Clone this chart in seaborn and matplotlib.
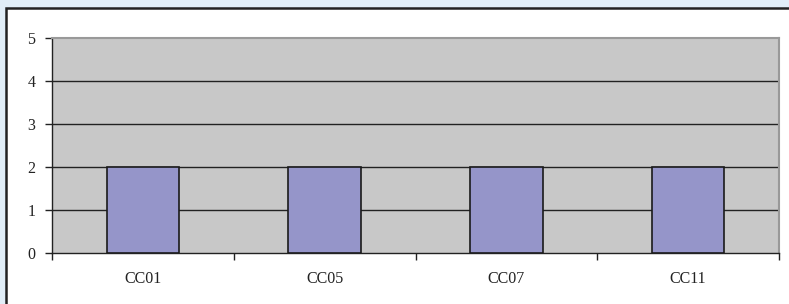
import numpy as np
import pandas as pd
import matplotlib
matplotlib.use("Agg")
import matplotlib.pyplot as plt
import seaborn as sns
from matplotlib.patches import Rectangle

# data
categories = ["CC01", "CC05", "CC07", "CC11"]
values = [2, 2, 2, 2]
y_ticks = [0, 1, 2, 3, 4, 5]

W, H = 789, 304
sns.set_style("white")
plt.rcParams["font.family"] = ["Liberation Serif", "DejaVu Serif"]

fig = plt.figure(figsize=(W / 100, H / 100), dpi=100, facecolor="#E1EEF8")

# white frame panel behind the axes
panel = Rectangle((6 / W, -0.05), 1.2, 1 - 8 / H + 0.05, transform=fig.transFigure,
                  facecolor="white", edgecolor="#222222", linewidth=1.8, zorder=-5)
fig.add_artist(panel)

ax = fig.add_axes([52 / W, 1 - 253 / H, (779 - 52) / W, (253 - 38) / H])
ax.set_zorder(2)
df = pd.DataFrame({"cat": categories, "val": values})
sns.barplot(data=df, x="cat", y="val", ax=ax, color="#9595C9", width=0.4,
            edgecolor="#1a1a1a", linewidth=1.2, saturation=1, zorder=3)

ax.set_facecolor("#C8C8C8")
ax.set_ylim(0, 5)
ax.set_xlim(-0.5, len(categories) - 0.5)
ax.set_yticks(y_ticks)
for y in y_ticks[1:-1]:
    ax.axhline(y, color="#222222", linewidth=1, zorder=1)

ax.set_xlabel("")
ax.set_ylabel("")
ax.set_xticks(np.arange(len(categories)))
ax.set_xticklabels(categories)
ax.set_xticks(np.arange(len(categories) + 1) - 0.5, minor=True)
ax.tick_params(axis="x", which="major", bottom=False, length=0, pad=13,
               labelsize=11.5, colors="#222222")
ax.tick_params(axis="x", which="minor", bottom=True, length=5, direction="out",
               color="#222222", width=1)
ax.tick_params(axis="y", left=True, length=5, direction="out", color="#222222",
               width=1, pad=7, labelsize=11.5, labelcolor="#222222")

for side in ["top", "right"]:
    ax.spines[side].set_visible(True)
    ax.spines[side].set_color("#999999")
    ax.spines[side].set_linewidth(1.5)
ax.spines["left"].set_color("#222222")
ax.spines["bottom"].set_color("#222222")
ax.spines["left"].set_linewidth(1)
ax.spines["bottom"].set_linewidth(1)

fig.savefig("out.png", dpi=100, facecolor=fig.get_facecolor())
